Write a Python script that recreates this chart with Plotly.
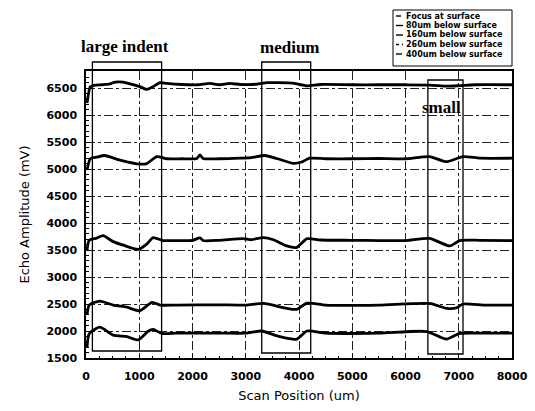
import plotly.graph_objects as go

# ---------------- data ----------------
series_names = ["Focus at surface", "80um below surface", "160um below surface",
                "260um below surface", "400um below surface"]

x_focus = [20, 80, 150, 300, 450, 550, 700, 830, 1010, 1140, 1260, 1390, 1520, 1800, 2100,
           2330, 2500, 2700, 2900, 3200, 3400, 3600, 3890, 4150, 4400, 5000, 5500, 6000,
           6450, 6800, 7020, 7300, 8000]
y_focus = [6220, 6520, 6550, 6560, 6575, 6610, 6610, 6575, 6525, 6475, 6525, 6600, 6585, 6565,
           6560, 6585, 6560, 6585, 6565, 6570, 6600, 6600, 6590, 6540, 6565, 6560, 6560, 6560,
           6555, 6535, 6545, 6560, 6560]

x_80 = [20, 80, 200, 350, 640, 1010, 1140, 1330, 1520, 1800, 2080, 2140, 2200, 2500, 2900,
        3100, 3360, 3600, 3890, 4050, 4200, 4500, 5000, 5500, 6000, 6450, 6770, 7080, 7400, 8000]
y_80 = [4980, 5190, 5220, 5250, 5165, 5090, 5100, 5230, 5190, 5190, 5195, 5260, 5195, 5190, 5200,
        5210, 5250, 5190, 5105, 5130, 5200, 5190, 5190, 5195, 5190, 5230, 5135, 5230, 5200, 5200]

x_160 = [20, 60, 200, 320, 510, 700, 980, 1140, 1260, 1450, 1700, 2000, 2140, 2200, 2500, 2950,
         3100, 3330, 3520, 3770, 3960, 4150, 4400, 5000, 5500, 6000, 6450, 6830, 7020, 7400, 8000]
y_160 = [3500, 3680, 3720, 3765, 3655, 3590, 3510, 3610, 3730, 3675, 3675, 3680, 3725, 3675, 3680,
         3710, 3690, 3730, 3690, 3575, 3550, 3710, 3685, 3680, 3675, 3675, 3715, 3575, 3675, 3680,
         3675]

x_260 = [20, 60, 260, 510, 770, 1010, 1240, 1390, 1700, 2500, 3000, 3330, 3770, 3960, 4150, 4500,
         5500, 6450, 6770, 6960, 7080, 7500, 8000]
y_260 = [2300, 2480, 2555, 2480, 2440, 2375, 2530, 2480, 2480, 2485, 2480, 2510, 2420, 2400, 2515,
         2480, 2480, 2510, 2420, 2430, 2500, 2480, 2480]

x_400 = [20, 60, 260, 510, 770, 980, 1160, 1260, 1420, 1700, 2500, 3000, 3300, 3640, 3960, 4150,
         4500, 5500, 6400, 6770, 7020, 7500, 8000]
y_400 = [1700, 1950, 2070, 1925, 1895, 1835, 1990, 2030, 1955, 1960, 1960, 1960, 2000, 1895, 1850,
         2000, 1960, 1960, 1990, 1850, 1955, 1960, 1960]

series_x = [x_focus, x_80, x_160, x_260, x_400]
series_y = [y_focus, y_80, y_160, y_260, y_400]

region_labels = ["large indent", "medium", "small"]
region_x0 = [120, 3300, 6420]
region_x1 = [1420, 4220, 7080]

x_ticks = [0, 1000, 2000, 3000, 4000, 5000, 6000, 7000, 8000]
y_ticks = [1500, 2000, 2500, 3000, 3500, 4000, 4500, 5000, 5500, 6000, 6500]

# ---------------- figure ----------------
W, H = 535, 411
L, R, T, B = 86, 23, 71, 53
pw, ph = W - L - R, H - T - B

def px_x(px):
    return (px - L) / pw

def px_y(py):
    return (H - B - py) / ph

fig = go.Figure()
for xs, ys, nm in zip(series_x, series_y, series_names):
    fig.add_trace(go.Scatter(x=xs, y=ys, mode="lines", name=nm, showlegend=False,
                             line=dict(color="black", width=2.8, shape="spline", smoothing=0.6)))

shapes = []
annotations = []

# indent boxes
box_top = [px_y(62), px_y(62), px_y(80)]
box_bot = [px_y(351), px_y(353), px_y(354)]
for x0, x1, y0, y1 in zip(region_x0, region_x1, box_bot, box_top):
    shapes.append(dict(type="rect", xref="x", yref="paper", x0=x0, x1=x1, y0=y0, y1=y1,
                       line=dict(color="black", width=1.3), fillcolor="rgba(0,0,0,0)"))

label_pos = [(732, px_y(46)), (3831, px_y(47)), (6685, px_y(107))]
for txt, (lx, ly) in zip(region_labels, label_pos):
    annotations.append(dict(text="<b>%s</b>" % txt, x=lx, y=ly, xref="x", yref="paper",
                            showarrow=False, xanchor="center", yanchor="middle",
                            font=dict(family="Liberation Serif", size=17, color="black")))

# manual legend
shapes.append(dict(type="rect", xref="paper", yref="paper", x0=px_x(393), x1=px_x(512),
                   y0=px_y(66), y1=px_y(10), line=dict(color="black", width=1),
                   fillcolor="white"))
dashes = ["solid", "solid", "dash", "dot", "solid"]
seg_len = [5, 7, 7, 7, 6]
row_y = [16, 25.5, 35, 44.5, 54]
for nm, ds, sl, ry in zip(series_names, dashes, seg_len, row_y):
    shapes.append(dict(type="line", xref="paper", yref="paper", x0=px_x(396), x1=px_x(396 + sl),
                       y0=px_y(ry), y1=px_y(ry), line=dict(color="black", width=1.4, dash=ds)))
    annotations.append(dict(text="<b>%s</b>" % nm, x=px_x(404), y=px_y(ry), xref="paper",
                            yref="paper", showarrow=False, xanchor="left", yanchor="middle",
                            font=dict(family="DejaVu Sans", size=8, color="black")))

axis_common = dict(showline=True, linecolor="black", linewidth=1.5, mirror=True,
                   showgrid=True, gridcolor="#222", griddash="dashdot", gridwidth=1,
                   ticks="inside", ticklen=4, tickcolor="black", zeroline=False,
                   automargin=False,
                   tickfont=dict(family="DejaVu Sans", size=11, color="black", weight="bold"))

fig.update_layout(
    width=W, height=H, margin=dict(l=L, r=R, t=T, b=B),
    paper_bgcolor="white", plot_bgcolor="white",
    shapes=shapes, annotations=annotations, showlegend=False,
    xaxis=dict(range=[0, 8000], tickvals=x_ticks, ticklabelstandoff=7,
               minor=dict(ticks="inside", ticklen=2, dtick=250, tickcolor="black", showgrid=False),
               title=dict(text="Scan Position (um)", standoff=9,
                          font=dict(family="DejaVu Sans", size=13, color="black")),
               **axis_common),
    yaxis=dict(range=[1500, 6815], tickvals=y_ticks, ticklabelstandoff=5,
               minor=dict(ticks="inside", ticklen=3, dtick=100, tickcolor="black", showgrid=False),
               title=dict(text="Echo Amplitude (mV)", standoff=14,
                          font=dict(family="DejaVu Sans", size=13, color="black")),
               **axis_common),
)

fig.write_html("out.html")
